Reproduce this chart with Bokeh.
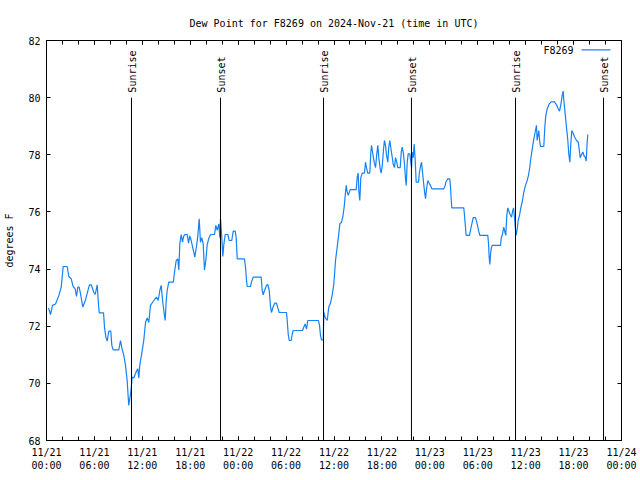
import numpy as np
import pandas as pd
from bokeh.plotting import figure
from bokeh.models import Range1d, FixedTicker, LinearAxis, Label, Arrow, CustomJSTickFormatter
from bokeh.core.properties import value
from bokeh.embed import file_html
from bokeh.resources import INLINE

FONT = "DejaVu Sans Mono"
START = "2024-11-21 00:00"
STATION = "F8269"

# hours since START, dew point (degrees F)
hours = [0.25, 0.5, 0.75, 1.13, 1.54, 1.84, 2.0, 2.09, 2.59, 2.79, 3.09, 3.34, 3.59, 3.76, 3.92,
         4.09, 4.26, 4.55, 4.88, 5.17, 5.38, 5.6, 5.92, 6.1, 6.35, 6.51, 6.6, 7.14, 7.26, 7.43,
         7.6, 7.8, 8.05, 8.18, 8.35, 9.05, 9.27, 9.43, 9.68, 9.89, 10.1, 10.23, 10.3, 10.43, 10.56,
         10.73, 10.93, 11.27, 11.43, 11.56, 11.68, 11.9, 12.18, 12.4, 12.61, 12.81, 13.02, 13.44,
         13.77, 13.99, 14.19, 14.36, 14.56, 14.74, 14.86, 14.99, 15.11, 15.31, 15.87, 16.03, 16.24,
         16.44, 16.57, 16.69, 16.87, 17.03, 17.19, 17.37, 17.62, 17.78, 17.94, 18.12, 18.28, 18.44,
         18.57, 18.78, 18.95, 19.12, 19.28, 19.45, 19.62, 19.78, 19.95, 20.12, 20.32, 20.54, 21.04,
         21.2, 21.38, 21.58, 21.7, 21.79, 21.95, 22.08, 22.2, 22.38, 22.71, 22.88, 23.2, 23.38,
         23.63, 23.75, 23.88, 24.79, 24.92, 25.04, 25.13, 25.54, 25.67, 25.88, 26.88, 27.01, 27.13,
         27.3, 27.55, 27.71, 27.89, 28.05, 28.17, 28.39, 28.59, 28.8, 28.96, 29.14, 30.05, 30.14,
         30.27, 30.39, 30.64, 30.76, 30.89, 32.06, 32.22, 32.39, 32.56, 32.72, 34.06, 34.19, 34.31,
         34.43, 34.65, 34.72, 34.9, 35.15, 35.35, 35.56, 35.78, 35.98, 36.19, 36.4, 36.6, 36.73,
         36.94, 37.1, 37.28, 37.44, 37.53, 37.65, 37.78, 38.03, 38.78, 38.91, 39.03, 39.11, 39.23,
         39.36, 39.53, 39.82, 39.94, 40.07, 40.23, 40.48, 40.61, 40.7, 40.86, 41.03, 41.2, 41.36,
         41.49, 41.61, 41.79, 41.91, 42.04, 42.2, 42.32, 42.45, 42.57, 42.74, 42.86, 42.99, 43.16,
         43.29, 43.41, 43.58, 43.7, 43.86, 43.99, 44.29, 44.42, 44.54, 44.7, 44.83, 44.95, 45.04,
         45.17, 45.29, 45.49, 45.62, 45.71, 45.79, 45.92, 46.04, 46.17, 46.29, 46.58, 46.67, 46.8,
         46.96, 47.08, 47.21, 47.34, 47.46, 47.58, 47.75, 47.92, 48.08, 48.25, 49.75, 49.93, 50.0,
         50.25, 50.5, 50.59, 50.68, 50.75, 52.25, 52.34, 52.47, 52.55, 52.97, 53.09, 53.26, 53.43,
         53.72, 53.93, 54.09, 54.26, 55.26, 55.35, 55.43, 55.51, 55.6, 55.68, 55.81, 56.85, 56.93,
         57.1, 57.26, 57.39, 57.51, 57.64, 57.76, 57.94, 58.1, 58.23, 58.35, 58.48, 58.6, 58.69,
         58.81, 58.94, 59.06, 59.23, 59.39, 59.6, 59.77, 59.98, 60.19, 60.35, 60.52, 60.61, 60.82,
         61.02, 61.23, 61.35, 61.44, 61.64, 61.77, 61.86, 62.27, 62.4, 62.52, 62.7, 62.95, 63.2,
         63.61, 63.86, 64.07, 64.24, 64.4, 64.58, 64.7, 64.78, 64.95, 65.11, 65.28, 65.4, 65.53,
         65.65, 65.78, 65.95, 66.12, 66.37, 66.58, 66.7, 66.83, 66.99, 67.16, 67.33, 67.45, 67.58,
         67.7, 67.78]
dewpoint = [72.64, 72.41, 72.73, 72.78, 73.07, 73.37, 73.83, 74.09, 74.09, 73.74, 73.66, 73.39,
            73.31, 73.04, 73.37, 73.37, 73.13, 72.67, 72.92, 73.23, 73.45, 73.45, 73.19, 73.11,
            73.45, 72.75, 72.47, 72.47, 71.97, 71.62, 71.48, 71.83, 71.83, 71.33, 71.17, 71.17,
            71.5, 71.24, 70.98, 70.63, 70.1, 69.52, 69.23, 69.47, 69.69, 70.22, 70.19, 70.43,
            70.51, 70.19, 70.63, 71.0, 71.5, 72.14, 72.29, 72.14, 72.73, 72.9, 73.02, 72.9, 73.25,
            73.43, 72.84, 72.43, 72.2, 72.9, 73.25, 73.54, 73.54, 73.89, 74.3, 74.36, 73.97, 74.88,
            75.21, 74.94, 75.16, 75.21, 75.21, 74.91, 75.16, 75.0, 74.79, 74.59, 74.42, 74.79,
            75.16, 75.76, 74.94, 75.1, 74.88, 73.97, 74.3, 74.85, 75.07, 75.21, 75.21, 75.53,
            75.36, 75.58, 75.1, 75.76, 75.1, 74.44, 74.85, 75.21, 75.21, 75.0, 75.0, 75.33, 75.33,
            75.1, 74.36, 74.36, 74.07, 73.62, 73.39, 73.39, 73.55, 73.72, 73.72, 73.25, 73.1,
            73.25, 73.43, 73.46, 73.25, 72.69, 72.48, 72.69, 72.81, 72.81, 72.64, 72.48, 72.48,
            72.2, 71.71, 71.5, 71.5, 71.71, 71.85, 71.85, 71.97, 72.08, 71.9, 72.2, 72.2, 72.02,
            71.68, 71.52, 71.52, 72.49, 72.3, 72.2, 72.67, 72.81, 73.1, 73.48, 74.3, 74.77, 75.23,
            75.58, 75.64, 75.82, 76.19, 76.69, 76.93, 76.7, 76.58, 76.78, 76.78, 77.22, 77.36,
            76.73, 76.4, 77.2, 77.36, 77.36, 77.74, 77.55, 77.36, 77.36, 78.09, 78.33, 78.03,
            77.74, 77.55, 78.03, 78.33, 77.9, 77.5, 77.36, 77.6, 78.2, 78.5, 78.33, 78.0, 77.74,
            78.27, 78.5, 78.15, 77.92, 77.67, 77.55, 77.9, 77.74, 77.55, 77.55, 78.09, 78.27,
            78.03, 77.67, 77.16, 76.93, 77.74, 78.03, 78.03, 77.74, 77.55, 78.09, 77.9, 78.38,
            77.8, 77.04, 77.04, 77.32, 77.55, 77.74, 77.4, 77.04, 76.7, 76.46, 76.8, 77.1, 77.0,
            76.93, 76.81, 76.81, 76.93, 77.04, 77.16, 77.16, 76.87, 76.42, 76.14, 76.14, 75.88,
            75.44, 75.18, 75.18, 75.36, 75.58, 75.8, 75.8, 75.58, 75.36, 75.18, 75.18, 74.88,
            74.42, 74.16, 74.5, 74.71, 74.83, 74.83, 75.06, 75.23, 75.47, 75.3, 75.18, 75.88,
            76.14, 76.0, 75.88, 75.82, 76.0, 76.14, 75.82, 75.47, 75.18, 75.4, 75.7, 75.88, 76.14,
            76.4, 76.69, 76.93, 77.1, 77.28, 77.57, 77.8, 78.2, 78.56, 78.85, 79.03, 78.5, 78.85,
            78.44, 78.29, 78.29, 78.97, 79.38, 79.61, 79.78, 79.85, 79.85, 79.75, 79.61, 79.53,
            79.75, 80.08, 80.23, 79.9, 79.43, 78.97, 78.5, 78.03, 77.74, 78.38, 78.85, 78.75,
            78.62, 78.5, 78.45, 78.2, 77.9, 78.0, 78.1, 77.95, 77.92, 77.78, 78.44, 78.71]

sun_events = ["Sunrise", "Sunset", "Sunrise", "Sunset", "Sunrise", "Sunset"]
sun_hours = [10.64, 21.79, 34.69, 45.70, 58.73, 69.75]
SUN_MARK_TOP = 80

y_ticks = [68, 70, 72, 74, 76, 78, 80, 82]
x_tick_hours = [0, 6, 12, 18, 24, 30, 36, 42, 48, 54, 60, 66, 72]
x_tick_labels = ["11/21\n00:00", "11/21\n06:00", "11/21\n12:00", "11/21\n18:00",
                 "11/22\n00:00", "11/22\n06:00", "11/22\n12:00", "11/22\n18:00",
                 "11/23\n00:00", "11/23\n06:00", "11/23\n12:00", "11/23\n18:00",
                 "11/24\n00:00"]
x_minor_step_hours = 2

HOUR_MS = 3600 * 1000
t0 = pd.Timestamp(START).value // 10**6


def to_ms(h_list):
    return [t0 + h * HOUR_MS for h in h_list]


xs = to_ms(hours)
sun_x = to_ms(sun_hours)
major = to_ms(x_tick_hours)
minor = to_ms(list(range(x_tick_hours[0], x_tick_hours[-1] + 1, x_minor_step_hours)))

p = figure(width=640, height=480, output_backend="svg", toolbar_location=None,
           x_range=Range1d(major[0], major[-1]), y_range=Range1d(y_ticks[0], y_ticks[-1]),
           min_border_left=46, min_border_right=19, min_border_top=40, min_border_bottom=40,
           background_fill_color="white", border_fill_color="white")
p.grid.visible = False
p.outline_line_color = "black"
p.outline_line_width = 1

p.title.text = f"Dew Point for {STATION} on 2024-Nov-21 (time in UTC)"
p.title.align = "center"
p.title.text_font = FONT
p.title.text_font_size = "10px"
p.title.text_font_style = "normal"
p.title.text_color = "black"
p.title.standoff = 24

xticker = FixedTicker(ticks=major, minor_ticks=minor)
yticker = FixedTicker(ticks=y_ticks, minor_ticks=[])
blank = CustomJSTickFormatter(code="return '';")


def style_axis(ax):
    ax.axis_line_color = "black"
    ax.major_tick_in = 4
    ax.major_tick_out = 0
    ax.minor_tick_in = 4
    ax.minor_tick_out = 0
    ax.major_tick_line_color = "black"
    ax.minor_tick_line_color = "black"
    ax.major_label_text_font = FONT
    ax.major_label_text_font_size = "10px"
    ax.major_label_text_color = "black"
    ax.axis_label_text_font = FONT
    ax.axis_label_text_font_size = "10px"
    ax.axis_label_text_font_style = "normal"
    ax.axis_label_text_color = "black"


xa = p.xaxis[0]
xa.ticker = xticker
xa.major_label_overrides = {float(k): v for k, v in zip(major, x_tick_labels)}
xa.major_label_standoff = 6
style_axis(xa)

ya = p.yaxis[0]
ya.ticker = yticker
ya.axis_label = "degrees F"
ya.major_label_standoff = 6
ya.axis_label_standoff = 10
style_axis(ya)

top = LinearAxis(ticker=xticker, formatter=blank)
style_axis(top)
top.major_label_standoff = 0
p.add_layout(top, "above")

right = LinearAxis(ticker=yticker, formatter=blank)
style_axis(right)
right.major_label_standoff = 0
p.add_layout(right, "right")

LINE_COLOR = "#1482f5"
p.line(xs, dewpoint, line_color=LINE_COLOR, line_width=1.2)

p.segment(x0=sun_x, y0=[y_ticks[0]] * len(sun_x), x1=sun_x, y1=[SUN_MARK_TOP] * len(sun_x),
          line_color="black", line_width=1)
p.text(x=sun_x, y=[SUN_MARK_TOP] * len(sun_x), text=sun_events, angle=np.pi / 2,
       text_align="left", text_baseline="middle", text_font=value(FONT),
       text_font_size="10px", text_color="black", y_offset=-5, x_offset=1)

# key (label then line sample, as in the original)
p.add_layout(Label(x=527, y=390.5, x_units="screen", y_units="screen", text=STATION,
                   text_align="right", text_baseline="middle", text_font=FONT,
                   text_font_size="10px", text_color="black"))
p.add_layout(Arrow(x_start=535, y_start=390.7, x_end=564, y_end=390.7,
                   start_units="screen", end_units="screen", start=None, end=None,
                   line_color=LINE_COLOR, line_width=1.2))

open("out.html", "w").write(file_html(p, INLINE))
